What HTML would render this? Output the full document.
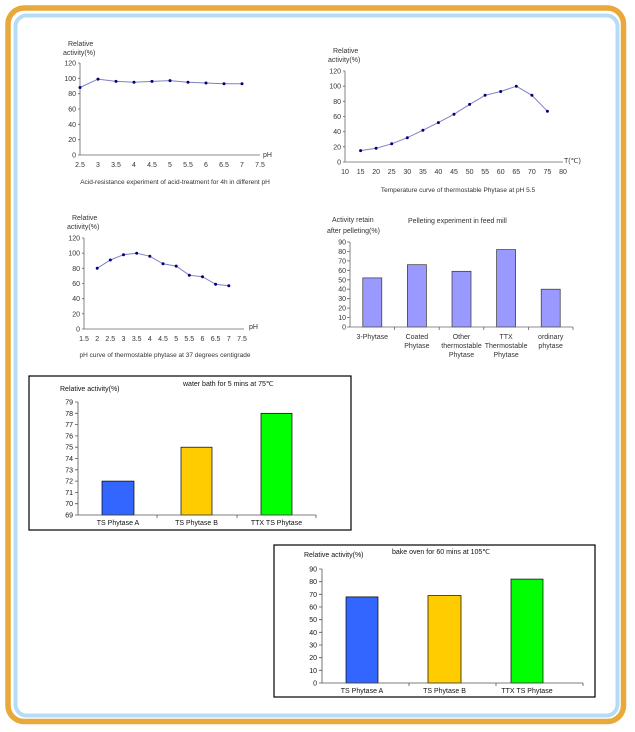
<!DOCTYPE html>
<html><head><meta charset="utf-8"><style>
html,body{margin:0;padding:0;background:#fff;}
svg{display:block;font-family:"Liberation Sans",sans-serif;}
</style></head><body>
<svg width="635" height="732" viewBox="0 0 635 732" xmlns="http://www.w3.org/2000/svg">
<rect x="8" y="8" width="615.5" height="713.5" rx="16" fill="none" stroke="#e8a93a" stroke-width="5.5"/>
<rect x="15.5" y="15.5" width="602" height="700" rx="11" fill="#fff" stroke="#b5dcf7" stroke-width="4"/>

<!-- Chart 1 -->
<g font-size="7" fill="#333">
<text x="68" y="46">Relative</text><text x="63" y="55">activity(%)</text>
<g stroke="#666" stroke-width="0.8" fill="none">
<line x1="80" y1="63" x2="80" y2="155"/><line x1="80" y1="155" x2="260" y2="155"/>
<path d="M78 63h2M78 78.3h2M78 93.7h2M78 109h2M78 124.3h2M78 139.7h2M78 155h2"/>
</g>
<g text-anchor="end"><text x="76" y="65.5">120</text><text x="76" y="80.8">100</text><text x="76" y="96.2">80</text><text x="76" y="111.5">60</text><text x="76" y="126.8">40</text><text x="76" y="142.2">20</text><text x="76" y="157.5">0</text></g>
<g text-anchor="middle"><text x="80" y="167">2.5</text><text x="98" y="167">3</text><text x="116" y="167">3.5</text><text x="134" y="167">4</text><text x="152" y="167">4.5</text><text x="170" y="167">5</text><text x="188" y="167">5.5</text><text x="206" y="167">6</text><text x="224" y="167">6.5</text><text x="242" y="167">7</text><text x="260" y="167">7.5</text></g>
<text x="263" y="157">pH</text>
<text x="175" y="184" text-anchor="middle" font-size="6.5">Acid-resistance experiment of acid-treatment for 4h in different pH</text>
<polyline points="80,87.5 98,79.1 116,81.4 134,82.2 152,81.4 170,80.6 188,82.2 206,83 224,83.7 242,83.7" fill="none" stroke="#8080c0" stroke-width="1"/>
<g fill="#000080"><circle cx="80" cy="87.5" r="1.5"/><circle cx="98" cy="79.1" r="1.5"/><circle cx="116" cy="81.4" r="1.5"/><circle cx="134" cy="82.2" r="1.5"/><circle cx="152" cy="81.4" r="1.5"/><circle cx="170" cy="80.6" r="1.5"/><circle cx="188" cy="82.2" r="1.5"/><circle cx="206" cy="83" r="1.5"/><circle cx="224" cy="83.7" r="1.5"/><circle cx="242" cy="83.7" r="1.5"/></g>
</g>

<!-- Chart 2 -->
<g font-size="7" fill="#333">
<text x="333" y="53">Relative</text><text x="328" y="62">activity(%)</text>
<g stroke="#666" stroke-width="0.8" fill="none">
<line x1="345" y1="71" x2="345" y2="162"/><line x1="345" y1="162" x2="563" y2="162"/>
<path d="M343 71h2M343 86.2h2M343 101.3h2M343 116.5h2M343 131.7h2M343 146.8h2M343 162h2"/>
</g>
<g text-anchor="end"><text x="341" y="73.5">120</text><text x="341" y="88.7">100</text><text x="341" y="103.8">80</text><text x="341" y="119">60</text><text x="341" y="134.2">40</text><text x="341" y="149.3">20</text><text x="341" y="164.5">0</text></g>
<g text-anchor="middle"><text x="345" y="174">10</text><text x="360.6" y="174">15</text><text x="376.1" y="174">20</text><text x="391.7" y="174">25</text><text x="407.3" y="174">30</text><text x="422.9" y="174">35</text><text x="438.4" y="174">40</text><text x="454" y="174">45</text><text x="469.6" y="174">50</text><text x="485.1" y="174">55</text><text x="500.7" y="174">60</text><text x="516.3" y="174">65</text><text x="531.9" y="174">70</text><text x="547.4" y="174">75</text><text x="563" y="174">80</text></g>
<text x="564" y="163">T(℃)</text>
<text x="458" y="192" text-anchor="middle" font-size="6.5">Temperature curve of thermostable Phytase at pH 5.5</text>
<polyline points="360.6,150.6 376.1,148.3 391.7,143.8 407.3,137.7 422.9,130.2 438.4,122.6 454,114.2 469.6,104.4 485.1,95.3 500.7,91.5 516.3,86.2 531.9,95.3 547.4,111.2" fill="none" stroke="#8080c0" stroke-width="1"/>
<g fill="#000080"><circle cx="360.6" cy="150.6" r="1.5"/><circle cx="376.1" cy="148.3" r="1.5"/><circle cx="391.7" cy="143.8" r="1.5"/><circle cx="407.3" cy="137.7" r="1.5"/><circle cx="422.9" cy="130.2" r="1.5"/><circle cx="438.4" cy="122.6" r="1.5"/><circle cx="454" cy="114.2" r="1.5"/><circle cx="469.6" cy="104.4" r="1.5"/><circle cx="485.1" cy="95.3" r="1.5"/><circle cx="500.7" cy="91.5" r="1.5"/><circle cx="516.3" cy="86.2" r="1.5"/><circle cx="531.9" cy="95.3" r="1.5"/><circle cx="547.4" cy="111.2" r="1.5"/></g>
</g>

<!-- Chart 3 -->
<g font-size="7" fill="#333">
<text x="72" y="220">Relative</text><text x="67" y="229">activity(%)</text>
<g stroke="#666" stroke-width="0.8" fill="none">
<line x1="84" y1="238" x2="84" y2="329"/><line x1="84" y1="329" x2="244" y2="329"/>
<path d="M82 238h2M82 253.2h2M82 268.3h2M82 283.5h2M82 298.7h2M82 313.8h2M82 329h2"/>
</g>
<g text-anchor="end"><text x="80" y="240.5">120</text><text x="80" y="255.7">100</text><text x="80" y="270.8">80</text><text x="80" y="286">60</text><text x="80" y="301.2">40</text><text x="80" y="316.3">20</text><text x="80" y="331.5">0</text></g>
<g text-anchor="middle"><text x="84" y="341">1.5</text><text x="97.2" y="341">2</text><text x="110.3" y="341">2.5</text><text x="123.5" y="341">3</text><text x="136.7" y="341">3.5</text><text x="149.8" y="341">4</text><text x="163" y="341">4.5</text><text x="176.2" y="341">5</text><text x="189.3" y="341">5.5</text><text x="202.5" y="341">6</text><text x="215.6" y="341">6.5</text><text x="228.8" y="341">7</text><text x="242" y="341">7.5</text></g>
<text x="249" y="329">pH</text>
<text x="165" y="357" text-anchor="middle" font-size="6.5">pH curve of thermostable phytase at 37 degrees centigrade</text>
<polyline points="97.2,268.3 110.3,260 123.5,254.7 136.7,253.2 149.8,256.2 163,263.8 176.2,266.1 189.3,275.2 202.5,276.7 215.6,284.3 228.8,285.8" fill="none" stroke="#8080c0" stroke-width="1"/>
<g fill="#000080"><circle cx="97.2" cy="268.3" r="1.5"/><circle cx="110.3" cy="260" r="1.5"/><circle cx="123.5" cy="254.7" r="1.5"/><circle cx="136.7" cy="253.2" r="1.5"/><circle cx="149.8" cy="256.2" r="1.5"/><circle cx="163" cy="263.8" r="1.5"/><circle cx="176.2" cy="266.1" r="1.5"/><circle cx="189.3" cy="275.2" r="1.5"/><circle cx="202.5" cy="276.7" r="1.5"/><circle cx="215.6" cy="284.3" r="1.5"/><circle cx="228.8" cy="285.8" r="1.5"/></g>
</g>

<!-- Chart 4 -->
<g font-size="7" fill="#333">
<text x="332" y="222">Activity retain</text><text x="327" y="233">after pelleting(%)</text>
<text x="408" y="223">Pelleting experiment in feed mill</text>
<g fill="#9999ff" stroke="#333" stroke-width="0.7">
<rect x="362.8" y="277.9" width="19" height="49.1"/><rect x="407.4" y="264.7" width="19" height="62.3"/><rect x="452" y="271.3" width="19" height="55.7"/><rect x="496.6" y="249.6" width="19" height="77.4"/><rect x="541.2" y="289.2" width="19" height="37.8"/>
</g>
<g stroke="#666" stroke-width="0.8" fill="none">
<line x1="350" y1="242" x2="350" y2="327"/><line x1="350" y1="327" x2="573" y2="327"/>
<path d="M347 242h3M347 251.4h3M347 260.9h3M347 270.3h3M347 279.8h3M347 289.2h3M347 298.7h3M347 308.1h3M347 317.6h3M347 327h3M394.6 327v3M439.2 327v3M483.8 327v3M528.4 327v3M573 327v3"/>
</g>
<g text-anchor="end"><text x="346" y="244.5">90</text><text x="346" y="253.9">80</text><text x="346" y="263.4">70</text><text x="346" y="272.8">60</text><text x="346" y="282.3">50</text><text x="346" y="291.7">40</text><text x="346" y="301.2">30</text><text x="346" y="310.6">20</text><text x="346" y="320.1">10</text><text x="346" y="329.5">0</text></g>
<g text-anchor="middle"><text x="372.3" y="339">3-Phytase</text><text x="416.9" y="339">Coated</text><text x="416.9" y="348">Phytase</text><text x="461.5" y="339">Other</text><text x="461.5" y="348">thermostable</text><text x="461.5" y="357">Phytase</text><text x="506.1" y="339">TTX</text><text x="506.1" y="348">Thermostable</text><text x="506.1" y="357">Phytase</text><text x="550.7" y="339">ordinary</text><text x="550.7" y="348">phytase</text></g>
</g>

<!-- Chart 5 -->
<g font-size="7" fill="#111">
<rect x="29" y="376" width="322" height="154" fill="#fff" stroke="#000" stroke-width="1.2"/>
<text x="60" y="391">Relative activity(%)</text>
<text x="183" y="386">water bath for 5 mins at 75℃</text>
<g stroke="#000" stroke-width="0.7">
<rect x="102" y="481.1" width="32" height="33.9" fill="#3366ff"/><rect x="181" y="447.2" width="31" height="67.8" fill="#ffcc00"/><rect x="261" y="413.3" width="31" height="101.7" fill="#00ff00"/>
</g>
<g stroke="#555" stroke-width="0.8" fill="none">
<line x1="78" y1="402" x2="78" y2="515"/><line x1="78" y1="515" x2="316" y2="515"/>
<path d="M75 402h3M75 413.3h3M75 424.6h3M75 435.9h3M75 447.2h3M75 458.5h3M75 469.8h3M75 481.1h3M75 492.4h3M75 503.7h3M75 515h3M157 515v3M237 515v3M316 515v3"/>
</g>
<g text-anchor="end"><text x="73" y="404.5">79</text><text x="73" y="415.8">78</text><text x="73" y="427.1">77</text><text x="73" y="438.4">76</text><text x="73" y="449.7">75</text><text x="73" y="461">74</text><text x="73" y="472.3">73</text><text x="73" y="483.6">72</text><text x="73" y="494.9">71</text><text x="73" y="506.2">70</text><text x="73" y="517.5">69</text></g>
<g text-anchor="middle"><text x="118" y="525">TS Phytase A</text><text x="196.5" y="525">TS Phytase B</text><text x="276.5" y="525">TTX TS Phytase</text></g>
</g>

<!-- Chart 6 -->
<g font-size="7" fill="#111">
<rect x="274" y="545" width="321" height="152" fill="#fff" stroke="#000" stroke-width="1.2"/>
<text x="304" y="557">Relative activity(%)</text>
<text x="392" y="554">bake oven for 60 mins at 105℃</text>
<g stroke="#000" stroke-width="0.7">
<rect x="346" y="596.9" width="32" height="86.1" fill="#3366ff"/><rect x="428" y="595.6" width="33" height="87.4" fill="#ffcc00"/><rect x="511" y="579.1" width="32" height="103.9" fill="#00ff00"/>
</g>
<g stroke="#555" stroke-width="0.8" fill="none">
<line x1="322" y1="569" x2="322" y2="683"/><line x1="322" y1="683" x2="583" y2="683"/>
<path d="M319 569h3M319 581.7h3M319 594.3h3M319 607h3M319 619.7h3M319 632.3h3M319 645h3M319 657.7h3M319 670.3h3M319 683h3M409 683v3M496 683v3M583 683v3"/>
</g>
<g text-anchor="end"><text x="317" y="571.5">90</text><text x="317" y="584.2">80</text><text x="317" y="596.8">70</text><text x="317" y="609.5">60</text><text x="317" y="622.2">50</text><text x="317" y="634.8">40</text><text x="317" y="647.5">30</text><text x="317" y="660.2">20</text><text x="317" y="672.8">10</text><text x="317" y="685.5">0</text></g>
<g text-anchor="middle"><text x="362" y="693">TS Phytase A</text><text x="444.5" y="693">TS Phytase B</text><text x="527" y="693">TTX TS Phytase</text></g>
</g>
</svg>
</body></html>
